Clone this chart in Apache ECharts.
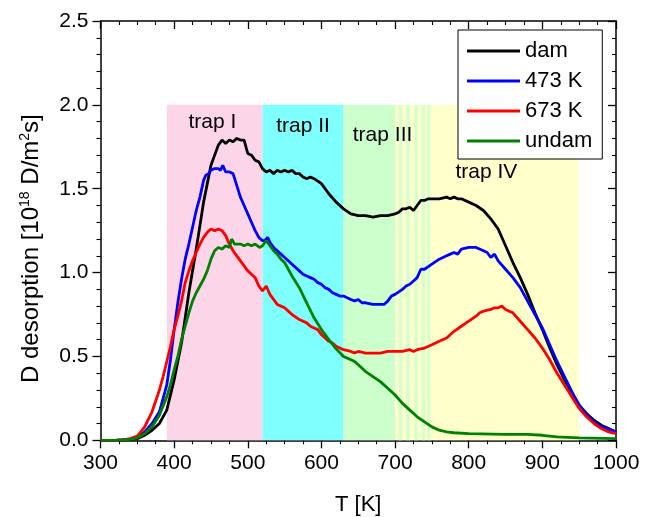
<!DOCTYPE html>
<html>
<head>
<meta charset="utf-8">
<script src="https://cdn.jsdelivr.net/npm/echarts@6/dist/echarts.min.js"></script>
<style>
html,body{margin:0;padding:0;background:#fff;}
#chart{width:662px;height:517px;}
</style>
</head>
<body>
<div id="chart"></div>
<script>
// ---- data (T [K], D desorption [1e18 D/m^2s]) ----
const seriesNames = ['dam', '473 K', '673 K', 'undam'];
const xTicks = [300, 400, 500, 600, 700, 800, 900, 1000];
const yTicks = [0.0, 0.5, 1.0, 1.5, 2.0, 2.5];

const damData = [[300,0],[310,0],[320,0],[330,0.002],[340,0.005],[350,0.01],[360,0.03],[370,0.06],[380,0.10],[390,0.18],[400,0.36],[410,0.58],[420,0.88],[430,1.14],[440,1.42],[450,1.64],[460,1.76],[465,1.79],[470,1.77],[475,1.79],[480,1.78],[485,1.80],[490,1.79],[495,1.79],[500,1.71],[505,1.70],[510,1.67],[515,1.66],[520,1.62],[525,1.60],[530,1.61],[535,1.59],[540,1.61],[545,1.60],[550,1.61],[555,1.60],[560,1.61],[565,1.59],[570,1.59],[575,1.57],[580,1.56],[585,1.57],[590,1.56],[600,1.53],[610,1.47],[620,1.42],[630,1.38],[640,1.35],[650,1.34],[660,1.34],[670,1.33],[680,1.34],[690,1.34],[700,1.35],[705,1.36],[710,1.38],[715,1.38],[720,1.39],[725,1.37],[730,1.40],[735,1.43],[740,1.43],[745,1.44],[750,1.44],[760,1.44],[770,1.45],[775,1.44],[780,1.45],[785,1.44],[790,1.44],[800,1.42],[810,1.40],[820,1.37],[830,1.32],[840,1.26],[850,1.16],[860,1.06],[870,0.97],[880,0.87],[890,0.76],[900,0.66],[910,0.55],[920,0.45],[930,0.36],[940,0.28],[950,0.21],[960,0.16],[970,0.12],[980,0.09],[990,0.07],[1000,0.05]];

const k473Data = [[300,0],[320,0],[330,0.002],[340,0.007],[350,0.015],[360,0.05],[370,0.10],[380,0.17],[390,0.33],[395,0.48],[400,0.66],[405,0.82],[410,0.96],[415,1.08],[420,1.17],[425,1.27],[430,1.37],[435,1.45],[440,1.55],[443,1.58],[447,1.59],[450,1.61],[455,1.62],[460,1.62],[463,1.61],[466,1.64],[470,1.60],[475,1.60],[480,1.59],[485,1.52],[490,1.45],[495,1.40],[500,1.35],[505,1.30],[510,1.25],[515,1.21],[520,1.19],[523,1.19],[527,1.21],[530,1.18],[535,1.15],[540,1.13],[545,1.11],[550,1.09],[555,1.07],[560,1.05],[565,1.03],[570,1.01],[575,0.99],[580,0.98],[585,0.97],[590,0.96],[595,0.94],[600,0.93],[605,0.91],[610,0.90],[615,0.88],[620,0.87],[625,0.86],[630,0.86],[635,0.85],[640,0.84],[645,0.83],[650,0.84],[655,0.82],[660,0.82],[670,0.81],[680,0.81],[685,0.81],[690,0.83],[695,0.86],[700,0.87],[710,0.90],[715,0.92],[720,0.93],[725,0.95],[730,0.97],[735,1.02],[740,1.02],[750,1.05],[760,1.08],[770,1.10],[775,1.11],[780,1.12],[785,1.11],[790,1.14],[800,1.15],[810,1.15],[820,1.13],[825,1.12],[830,1.09],[835,1.11],[840,1.07],[850,1.02],[860,0.97],[870,0.91],[880,0.83],[890,0.75],[900,0.67],[910,0.57],[920,0.47],[930,0.38],[940,0.29],[950,0.21],[960,0.15],[970,0.11],[980,0.08],[990,0.065],[1000,0.05]];

const k673Data = [[300,0],[320,0],[330,0.003],[340,0.01],[350,0.025],[360,0.08],[370,0.17],[380,0.30],[385,0.38],[390,0.47],[395,0.56],[400,0.66],[405,0.74],[410,0.83],[415,0.94],[420,1.01],[425,1.07],[430,1.12],[435,1.17],[440,1.21],[445,1.24],[450,1.26],[455,1.25],[460,1.26],[465,1.25],[470,1.22],[475,1.17],[480,1.13],[485,1.10],[490,1.07],[495,1.04],[500,1.01],[505,0.99],[510,0.97],[515,0.92],[520,0.89],[525,0.92],[530,0.87],[535,0.84],[540,0.81],[545,0.80],[550,0.79],[555,0.77],[560,0.75],[570,0.72],[580,0.70],[585,0.68],[590,0.67],[595,0.66],[600,0.63],[605,0.61],[610,0.59],[615,0.58],[620,0.56],[630,0.54],[640,0.53],[645,0.52],[650,0.53],[660,0.52],[670,0.52],[680,0.52],[690,0.53],[700,0.53],[710,0.53],[720,0.54],[725,0.53],[730,0.54],[740,0.55],[750,0.57],[760,0.59],[770,0.61],[780,0.65],[790,0.68],[800,0.71],[810,0.74],[815,0.76],[820,0.77],[830,0.78],[835,0.79],[840,0.79],[845,0.80],[850,0.78],[855,0.77],[860,0.76],[870,0.71],[880,0.66],[890,0.61],[900,0.55],[910,0.48],[920,0.40],[930,0.33],[940,0.26],[950,0.19],[960,0.14],[970,0.10],[980,0.07],[990,0.05],[1000,0.04]];

const undamData = [[300,0],[320,0],[330,0.002],[340,0.006],[350,0.015],[360,0.04],[370,0.08],[380,0.15],[390,0.26],[395,0.33],[400,0.42],[405,0.50],[410,0.60],[415,0.68],[420,0.76],[425,0.83],[430,0.88],[435,0.92],[440,0.96],[445,1.01],[450,1.08],[455,1.13],[460,1.15],[465,1.14],[470,1.16],[475,1.15],[478,1.20],[482,1.17],[490,1.17],[495,1.16],[500,1.17],[505,1.16],[510,1.17],[516,1.15],[520,1.16],[525,1.19],[530,1.16],[535,1.13],[540,1.11],[545,1.08],[550,1.06],[555,1.02],[560,0.98],[570,0.91],[580,0.82],[590,0.73],[600,0.66],[610,0.60],[620,0.545],[630,0.50],[640,0.48],[645,0.47],[650,0.45],[660,0.41],[670,0.38],[680,0.35],[690,0.31],[700,0.27],[710,0.22],[720,0.18],[730,0.14],[740,0.11],[750,0.08],[760,0.06],[770,0.05],[780,0.045],[800,0.04],[850,0.035],[880,0.035],[900,0.03],[920,0.02],[950,0.015],[1000,0.01]];

// trap temperature ranges [from, to, fill]
const bandRanges = [[390,520,'#fdd5e8'],[520,630,'#80ffff'],[630,700,'#ccffcc'],[700,950,'#ffffcc'],
  [705,710,'#d6ffd0'],[715,720,'#d6ffd0'],[726,731,'#d6ffd0'],[736,741,'#d6ffd0'],[744,748,'#d6ffd0']];
const bandTop = 2.0;
// trap labels [text, T, value]
const trapLabels = [['trap I',452,1.895],['trap II',575,1.87],['trap III',683,1.82],['trap IV',824,1.60]];

const colors = ['#000000','#0000ff','#ff0000','#008000'];
const seriesData = [damData, k473Data, k673Data, undamData];

const FONT = '"Liberation Sans", Arial, sans-serif';
const chart = echarts.init(document.getElementById('chart'), null, {renderer:'canvas'});

function xAxisCfg(top){
  return {
    type:'value', min:300, max:1000, interval:100, position: top?'top':'bottom',
    axisLine:{show:true, onZero:false, lineStyle:{color:'#000', width:1.5}},
    axisTick:{show:true, inside:top, length:8, lineStyle:{color:'#000', width:1.3}},
    minorTick:{show:true, splitNumber:4, length:4, lineStyle:{color:'#000', width:1.1}},
    axisLabel:{show:!top, fontSize:21, color:'#000', margin:12, fontFamily:FONT,
      formatter:v=>String(v)},
    splitLine:{show:false}, minorSplitLine:{show:false},
    name: top? '' : 'T [K]', nameLocation:'middle', nameGap:54,
    nameTextStyle:{fontSize:22, color:'#000', fontFamily:FONT}
  };
}
function yAxisCfg(right){
  return {
    type:'value', min:0, max:2.5, interval:0.5, position: right?'right':'left',
    axisLine:{show:true, onZero:false, lineStyle:{color:'#000', width:1.5}},
    axisTick:{show:true, inside:right, length:8, lineStyle:{color:'#000', width:1.3}},
    minorTick:{show:true, splitNumber:5, length:4, lineStyle:{color:'#000', width:1.1}},
    axisLabel:{show:!right, fontSize:21, color:'#000', margin:12, fontFamily:FONT,
      formatter:v=>v.toFixed(1)},
    splitLine:{show:false}, minorSplitLine:{show:false},
    name: right? '' : '{a|D desorption [10}{s|18}{a| D/m}{s|2}{a|s]}',
    nameLocation:'middle', nameGap:56,
    nameTextStyle:{fontSize:24, color:'#000', fontFamily:FONT, padding:[0,36,0,0],
      rich:{a:{fontSize:24, fontFamily:FONT, color:'#000', lineHeight:26},
            s:{fontSize:14, fontFamily:FONT, color:'#000', verticalAlign:'top', lineHeight:14}}}
  };
}

const series = [];
series.push({
  name:'bands', type:'line', data:[], silent:true, z:1, symbol:'none',
  markArea:{silent:true, data: bandRanges.map(b=>[
    {xAxis:b[0], yAxis:0, itemStyle:{color:b[2], opacity:1, borderWidth:0}},
    {xAxis:b[1], yAxis:bandTop}])}
});
seriesNames.forEach((n,i)=>{
  series.push({name:n, type:'line', data:seriesData[i], symbol:'none', showSymbol:false,
    lineStyle:{color:colors[i], width:2.8}, itemStyle:{color:colors[i]}, z:3, clip:true});
});
series.push({
  name:'traps', type:'scatter', symbolSize:0, z:5, silent:true,
  itemStyle:{opacity:1},
  data: trapLabels.map(t=>({name:t[0], value:[t[1], t[2]]})),
  label:{show:true, position:'inside', formatter:'{b}', fontSize:21, color:'#000', opacity:1, fontFamily:FONT}
});

chart.setOption({
  animation:false,
  backgroundColor:'#fff',
  grid:{left:100.5, right:46, top:21, bottom:76.7, containLabel:false, outerBoundsMode:'none'},
  xAxis:[xAxisCfg(false), xAxisCfg(true)],
  yAxis:[yAxisCfg(false), yAxisCfg(true)],
  legend:{
    data: seriesNames, orient:'vertical', left:458, top:30,
    icon:'rect', itemWidth:53, itemHeight:3, itemGap:8,
    padding:[10,10,7,9], borderColor:'#000', borderWidth:1, backgroundColor:'#fff',
    textStyle:{fontSize:22, lineHeight:20, color:'#000', fontFamily:FONT}, z:10
  },
  series: series
});
</script>
</body>
</html>
